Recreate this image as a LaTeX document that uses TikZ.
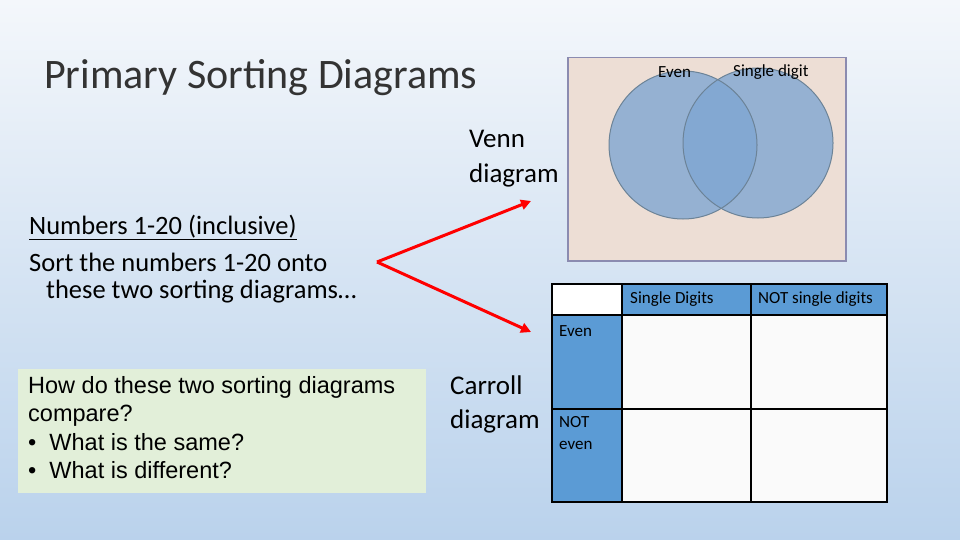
\documentclass[tikz,border=0pt]{standalone}
\usepackage{fontspec}
\setmainfont{Carlito}
\newfontfamily\arial{Liberation Sans}
\usetikzlibrary{arrows.meta}
\definecolor{cblue}{HTML}{5B9BD5}
\definecolor{circ}{HTML}{7FA6D2}
\definecolor{bgtop}{HTML}{F4F7FB}
\definecolor{bgbot}{HTML}{BAD2EC}
\definecolor{bgmid}{HTML}{D6E4F3}
\definecolor{vfill}{HTML}{EDDED5}
\definecolor{gfill}{HTML}{E2EFD9}
\begin{document}
\begin{tikzpicture}[x=1pt,y=-1pt,
  cell/.style={draw=black,line width=1.5pt},
  lab/.style={inner sep=0pt,anchor=west,font=\fontsize{17}{17}\selectfont},
  arr/.style={draw=red,line width=3pt,-{Triangle[length=10pt,width=10pt]}}]
\shade[top color=bgtop,bottom color=bgbot,middle color=bgmid] (0,0) rectangle (960,540);
\useasboundingbox (0,0) rectangle (960,540);
\node[anchor=west,inner sep=0pt,font=\fontsize{42}{42}\selectfont,text=black!80] (title) at (44,78) {Primary Sorting Diagrams};
% Venn
\node[draw=black!30!blue!30!gray!70,line width=1.5pt,fill=vfill,minimum width=278,minimum height=203,anchor=north west,inner sep=0pt] (vbox) at (567,57) {};
\fill[circ,opacity=.8] (683,145) circle (74);
\fill[circ,opacity=.8] (758,143) circle (75);
\draw[cblue!50!black!70!white,line width=1pt] (683,145) circle (74);
\draw[cblue!50!black!70!white,line width=1pt] (758,143) circle (75);
\node[lab] (even) at (658,72) {Even};
\node[lab] (sd) at (733,72) {Single digit};
\node[anchor=north west,align=left,inner sep=0pt,font=\fontsize{27}{35}\selectfont] (venn) at (469,130) {Venn\\diagram};
% left text
\node[anchor=north west,align=left,inner sep=0pt,font=\fontsize{26.5}{37}\selectfont] (nums) at (29,215) {\underline{Numbers 1-20 (inclusive)}\\Sort the numbers 1-20 onto\\[-10pt]\hspace*{17pt}these two sorting diagrams\dots};
\node[fill=gfill,minimum width=408,minimum height=124,anchor=north west,inner sep=0pt] (gbox) at (18,369) {};
\node[anchor=north west,align=left,inner sep=0pt,font=\arial\fontsize{23.5}{28.5}\selectfont] (q) at (28,376) {How do these two sorting diagrams\\compare?\\\textbullet\ \ What is the same?\\\textbullet\ \ What is different?};
% arrows
\coordinate (v) at (377,262);
\coordinate (t1) at (531,201);
\coordinate (t2) at (531,332);
\draw[arr] (v) -- (t1);
\draw[arr] (v) -- (t2);
% Carroll
\node[anchor=north west,align=left,inner sep=0pt,font=\fontsize{27}{34}\selectfont] (carroll) at (450,376) {Carroll\\diagram};
\fill[white] (552,284) rectangle (622,315);
\fill[cblue] (622,284) rectangle (887,315);
\fill[cblue] (552,315) rectangle (622,502);
\fill[black!2] (622,315) rectangle (887,502);
\draw[cell] (552,284) rectangle (887,502);
\draw[cell] (622,284) -- (622,502) (751,284) -- (751,502) (552,315) -- (887,315) (552,409) -- (887,409);
\node[lab] (c1) at (630,299) {Single Digits};
\node[lab] (c2) at (758,299) {NOT single digits};
\node[lab] (r1) at (559,331) {Even};
\node[lab,anchor=north west,align=left,font=\fontsize{17}{22}\selectfont] (r2) at (559,416) {NOT\\even};
\end{tikzpicture}
\end{document}
